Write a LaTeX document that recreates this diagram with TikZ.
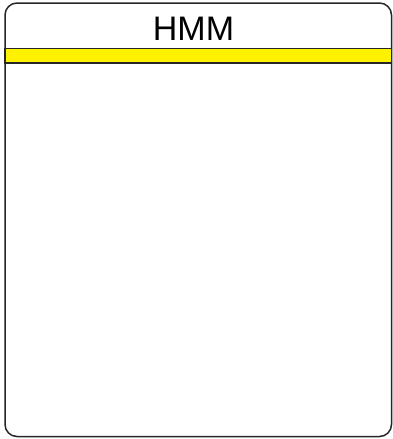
\documentclass[tikz,border=0pt]{standalone}
\usepackage{fontspec}
\setmainfont{Liberation Sans}
\begin{document}
\begin{tikzpicture}[x=1pt,y=-1pt,
  frame/.style={draw=black!85,line width=1.5pt,rounded corners=12pt},
  band/.style={draw=black!85,fill=yellow,line width=1.5pt},
  title/.style={inner sep=0pt,anchor=base,font=\fontsize{34}{38}\selectfont}]
\useasboundingbox (0,0) rectangle (393,439);
\draw[frame] (5,3) rectangle (391.5,436.5);
\draw[band] (5,48.5) rectangle (391.5,63);
\node[title] (t) at (193.5,40) {HMM};
\end{tikzpicture}
\end{document}
